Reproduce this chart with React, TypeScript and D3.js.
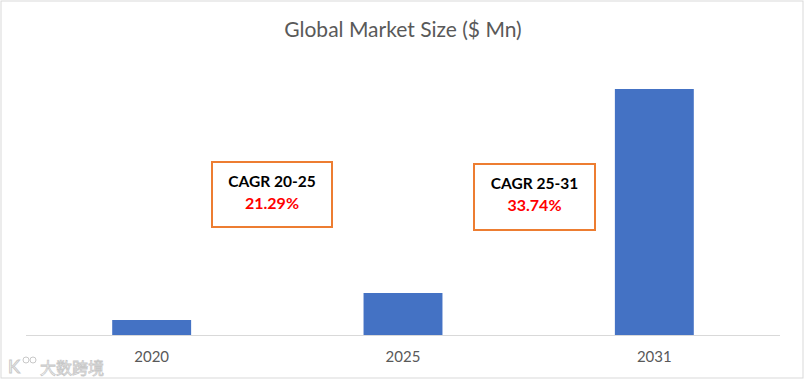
import React from "react";
import * as d3 from "d3";

const categories = ["2020", "2025", "2031"];
const marketSize = [15, 42, 246];
const titleText = "Global Market Size ($ Mn)";
const cagrLabels = ["CAGR 20-25", "CAGR 25-31"];
const cagrValues = ["21.29%", "33.74%"];

const W = 805;
const H = 380;
const margin = { left: 26, right: 25, top: 62, bottom: 45 };
const yMax = 273;

export default function App() {
  const x = d3
    .scaleBand<string>()
    .domain(categories)
    .range([margin.left, W - margin.right])
    .paddingInner(0.686)
    .paddingOuter(0.343);
  const y = d3.scaleLinear().domain([0, yMax]).range([H - margin.bottom, margin.top]);
  const baseY = y(0);
  const font = "Lato, 'Open Sans', sans-serif";

  const boxes = [
    { x: 212, y: 162, w: 120, h: 65 },
    { x: 474, y: 164, w: 121, h: 66 },
  ];

  return (
    <svg
      width={W}
      height={H}
      style={{ position: "absolute", left: 0, top: 0, background: "#fff" }}
    >
      <rect x={1} y={1} width={W - 3} height={H - 3} fill="#fff" stroke="#d9d9d9" strokeWidth={1} />
      <text x={403} y={37} textAnchor="middle" fontFamily={font} fontSize={21} fill="#595959">
        {titleText}
      </text>
      {categories.map((c, i) => (
        <rect
          key={c}
          x={x(c)}
          y={y(marketSize[i])}
          width={x.bandwidth()}
          height={baseY - y(marketSize[i])}
          fill="#4472C4"
        />
      ))}
      <line x1={margin.left} x2={W - margin.right} y1={baseY + 0.5} y2={baseY + 0.5} stroke="#d9d9d9" strokeWidth={1} />
      {categories.map((c) => (
        <text
          key={c}
          x={(x(c) as number) + x.bandwidth() / 2}
          y={362}
          textAnchor="middle"
          fontFamily={font}
          fontSize={15}
          fill="#595959"
        >
          {c}
        </text>
      ))}
      {boxes.map((b, i) => (
        <g key={i}>
          <rect x={b.x} y={b.y} width={b.w} height={b.h} fill="#fff" stroke="#ED7D31" strokeWidth={2} />
          <text x={b.x + b.w / 2} y={b.y + 25} textAnchor="middle" fontFamily={font} fontWeight="bold" fontSize={15.5} fill="#000">
            {cagrLabels[i]}
          </text>
          <text x={b.x + b.w / 2} y={b.y + 47} textAnchor="middle" fontFamily={font} fontWeight="bold" fontSize={16} fill="#FF0000">
            {cagrValues[i]}
          </text>
        </g>
      ))}
      <g>
        <text x={8} y={373} fontFamily={font} fontSize={18} fill="#fff" stroke="#c8c8c8" strokeWidth={1}>
          K
        </text>
        <circle cx={26} cy={360} r={3} fill="none" stroke="#c8c8c8" />
        <circle cx={33} cy={360} r={3} fill="none" stroke="#c8c8c8" />
        <text x={40} y={374} fontFamily="'Noto Sans CJK SC', sans-serif" fontSize={16} fill="#fff" stroke="#c8c8c8" strokeWidth={0.8}>
          大数跨境
        </text>
      </g>
    </svg>
  );
}
